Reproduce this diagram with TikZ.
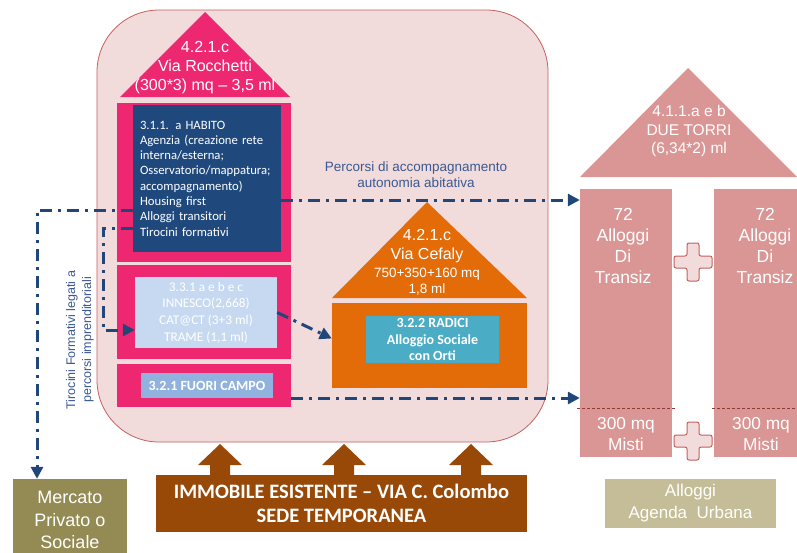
\documentclass[tikz,border=0pt]{standalone}
\usepackage{fontspec}
\setmainfont{Liberation Sans}
\newfontfamily\calibri[Ligatures=TeX]{Carlito}
\usetikzlibrary{arrows.meta}
\definecolor{bgpink}{RGB}{242,220,219}
\definecolor{bgline}{RGB}{196,96,94}
\definecolor{hotpink}{RGB}{238,40,112}
\definecolor{habitoblue}{RGB}{31,73,125}
\definecolor{innescoblue}{RGB}{198,217,241}
\definecolor{fuoriblue}{RGB}{145,178,222}
\definecolor{cefalyorange}{RGB}{227,108,9}
\definecolor{radiciteal}{RGB}{75,172,198}
\definecolor{torripink}{RGB}{217,150,148}
\definecolor{mistiline}{RGB}{149,55,53}
\definecolor{agendatan}{RGB}{196,189,151}
\definecolor{mercatoolive}{RGB}{148,138,84}
\definecolor{sedebrown}{RGB}{152,72,7}
\definecolor{flowblue}{RGB}{33,70,122}
\definecolor{labelblue}{RGB}{58,88,145}
\tikzset{
  box/.style={draw=none,inner sep=0pt,text=white,align=center},
  flow/.style={draw=flowblue,line width=3pt,dash pattern=on 12pt off 6pt on 3pt off 6pt,-{Triangle[length=12pt,width=12pt]}},
  plussign/.style={fill=bgpink,draw=bgline,line width=1pt,rounded corners=2pt}
}
\begin{document}
\begin{tikzpicture}[x=1pt,y=-1pt]
\useasboundingbox (0,0) rectangle (797,552);
\draw[fill=bgpink,draw=bgline,line width=0.8pt,rounded corners=62pt] (97,10) rectangle (548,442);
\fill[hotpink] (205,12) -- (290,97) -- (120,97) -- cycle;
\node[box,font=\fontsize{16}{19}\selectfont] (rocchetti) at (205,68) {4.2.1.c\\Via Rocchetti\\(300*3) mq – 3,5 ml};
\node[box,fill=hotpink,minimum width=174pt,minimum height=159pt] (habitoframe) at (204,182.5) {};
\node[box,fill=habitoblue,minimum width=148pt,minimum height=147pt,text width=134pt,align=left,font=\calibri\fontsize{12.7}{15.3}\selectfont] (habito) at (207,178.5) {3.1.1. a HABITO\\Agenzia (creazione rete\\interna/esterna;\\Osservatorio/mappatura;\\accompagnamento)\\Housing first\\Alloggi transitori\\Tirocini formativi};
\node[box,fill=hotpink,minimum width=174pt,minimum height=94pt] (innescoframe) at (204,312) {};
\node[box,fill=innescoblue,minimum width=142pt,minimum height=71pt,font=\calibri\fontsize{13.3}{16.7}\selectfont] (innesco) at (206,312.5) {3.3.1 a e b e c\\INNESCO(2,668)\\CAT@CT (3+3 ml)\\TRAME (1,1 ml)};
\node[box,fill=hotpink,minimum width=174pt,minimum height=43pt] (campoframe) at (204,385.5) {};
\node[box,fill=fuoriblue,minimum width=132pt,minimum height=25pt,font=\calibri\bfseries\fontsize{14}{16}\selectfont] (campo) at (207,385.5) {3.2.1 FUORI CAMPO};
\fill[cefalyorange] (427,202) -- (527,298) -- (332,298) -- cycle;
\node[box,font=\fontsize{16}{19}\selectfont] (cefalytitle) at (427,246) {4.2.1.c\\Via Cefaly};
\node[box,font=\fontsize{13.5}{16}\selectfont] (cefalymq) at (427,282) {750+350+160 mq\\1,8 ml};
\node[box,fill=cefalyorange,minimum width=195pt,minimum height=85pt] (cefaly) at (429.5,345.5) {};
\node[box,fill=radiciteal,minimum width=133pt,minimum height=47pt,font=\calibri\bfseries\fontsize{14}{16.5}\selectfont] (radici) at (432.5,339.5) {3.2.2 RADICI\\Alloggio Sociale\\con Orti};
\node[box,text=labelblue,font=\fontsize{13.5}{16}\selectfont] (percorsi) at (416,175) {Percorsi di accompagnamento\\autonomia abitativa};
\node[box,text=labelblue,rotate=90,font=\fontsize{12.5}{16}\selectfont] (tirocini) at (80,340) {Tirocini Formativi legati a\\percorsi imprenditoriali};
\fill[torripink] (688,68) -- (797,177) -- (580,177) -- cycle;
\node[box,font=\fontsize{15.5}{18.5}\selectfont] (duetorri) at (689,131) {4.1.1.a e b\\DUE TORRI\\(6,34*2) ml};
\node[box,fill=torripink,minimum width=92pt,minimum height=268pt] (torreA) at (626,323) {};
\node[box,fill=torripink,minimum width=102pt,minimum height=268pt] (torreB) at (765,323) {};
\node[box,font=\fontsize{17.5}{21}\selectfont] (alloggiA) at (623,246) {72\\Alloggi\\Di\\Transiz};
\node[box,font=\fontsize{17.5}{21}\selectfont] (alloggiB) at (765,246) {72\\Alloggi\\Di\\Transiz};
\node[box,font=\fontsize{17.3}{21}\selectfont] (mistiA) at (626,434.5) {300 mq\\Misti};
\node[box,font=\fontsize{17.3}{21}\selectfont] (mistiB) at (761,434.5) {300 mq\\Misti};
\draw[mistiline,dash pattern=on 3pt off 2pt,line width=0.8pt] (577,408) -- (675,408);
\draw[mistiline,dash pattern=on 3pt off 2pt,line width=0.8pt] (712,408) -- (797,408);
\foreach \py in {262,441}
  \draw[plussign] (687,\py-19) -- (699,\py-19) -- (699,\py-6) -- (712,\py-6) -- (712,\py+6) -- (699,\py+6) -- (699,\py+19) -- (687,\py+19) -- (687,\py+6) -- (674,\py+6) -- (674,\py-6) -- (687,\py-6) -- cycle;
\node[box,fill=agendatan,minimum width=171pt,minimum height=49pt,font=\fontsize{17}{22}\selectfont] (agenda) at (690.5,503.5) {Alloggi\\Agenda\ \ Urbana};
\node[box,fill=mercatoolive,minimum width=114pt,minimum height=82pt,font=\fontsize{18}{22.5}\selectfont] (mercato) at (70,520) {Mercato\\Privato o\\Sociale};
\foreach \ax in {220,344,471}
  \fill[sedebrown] (\ax-10,476) -- (\ax-10,465) -- (\ax-22,465) -- (\ax,444) -- (\ax+22,465) -- (\ax+10,465) -- (\ax+10,476) -- cycle;
\node[box,fill=sedebrown,minimum width=371pt,minimum height=57pt,font=\calibri\bfseries\fontsize{20.5}{24}\selectfont] (sede) at (341.5,503.5) {IMMOBILE ESISTENTE – VIA C. Colombo\\SEDE TEMPORANEA};
\draw[flow] (habito.east |- 0,200) -- (torreA.west |- 0,200);
\draw[flow] (campoframe.east |- 0,398) -- (torreA.west |- 0,398);
\draw[flow] (habito.west |- 0,210) -| ([xshift=-33pt]mercato.north);
\draw[flow] (habito.west |- 0,228) -- (103,228) -- (103,330) -- (innesco.west |- 0,330);
\draw[flow] (innesco.east) -- ([yshift=7pt]cefaly.west);
\end{tikzpicture}
\end{document}
